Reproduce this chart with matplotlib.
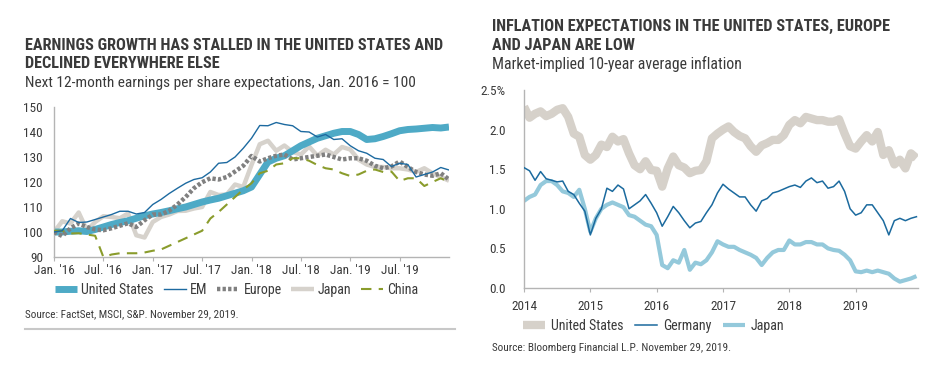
import matplotlib
matplotlib.use("Agg")
import matplotlib.pyplot as plt
from matplotlib import font_manager as fm

names = {f.name for f in fm.fontManager.ttflist}
FONT = "DejaVu Sans"
for cand in ["Liberation Sans Narrow", "Roboto Condensed", "Roboto", "Lato"]:
    if cand in names:
        FONT = cand
        break
plt.rcParams['font.family'] = [FONT, 'DejaVu Sans']

TXT = "#3a3a3a"
AX = "#b4b4b4"

# ---------------- Left chart data (monthly, Jan 2016 = 100) ----------------
left_xticklabels = ["Jan. '16", "Jul. '16", "Jan. '17", "Jul. '17", "Jan. '18", "Jul. '18", "Jan. '19", "Jul. '19"]
left_yticks = [90, 100, 110, 120, 130, 140, 150]

us_eps = [100, 100, 100.3, 100.5, 100.2, 101, 102, 103, 103.8, 104.5, 105.5, 106.5,
          107.2, 107.8, 108.5, 109.3, 110, 111, 112, 112.8, 113.5, 114.5, 115.5, 116.5,
          118, 123, 128, 129.5, 130.5, 132.5, 134.5, 136, 137.5, 138.5, 139.5, 140.2,
          140.2, 139, 137, 137.3, 138.2, 139.3, 140.5, 141, 141.2, 141.5, 141.8, 141.6, 142]
em_eps = [100, 100.5, 105.4, 103.8, 104, 105, 106, 107, 108.3, 108.3, 107.2, 107.8,
          111, 113, 115.4, 117.5, 119.5, 121, 121.7, 124, 127.5, 127.8, 130, 133.5,
          137.5, 142.6, 142.5, 143.8, 143, 142.5, 140.2, 140, 138, 139, 137, 137.3,
          134.5, 132.5, 131.5, 129.5, 129, 126.2, 127.5, 127, 122, 123, 124, 125.8, 124.8]
europe_eps = [100, 98.4, 101.5, 103.4, 102, 101, 100.7, 101.5, 102.5, 103.5, 102, 104.7,
              107, 107, 108.5, 111, 114, 117.5, 119.9, 121.5, 121, 122, 124.2, 126.5,
              130.4, 128.2, 129.5, 130.5, 131, 129, 129.5, 130, 130.5, 131, 130, 129,
              129.5, 129.5, 128.5, 126.5, 125.5, 126.2, 128.2, 126, 124, 123, 122.5, 123.5, 121]
japan_eps = [100, 104.3, 103.4, 107.8, 100.7, 104, 106.3, 106, 105.5, 107.4, 98.7, 97.8,
             104, 106, 107, 108.4, 108.5, 109.4, 110, 116, 114.8, 115, 119, 118,
             126.8, 135.1, 136.5, 132.5, 134.6, 132, 131, 134.2, 130.5, 132.9, 131, 134,
             133, 129, 127, 126, 126, 125.5, 125.5, 125, 124, 125.5, 123.5, 122, 120.5]
china_eps = [100.5, 100.5, 99.4, 99.5, 99, 98.5, 90, 91, 91.5, 91.5, 91.5, 91.8,
             92.5, 93, 94.5, 96, 97.5, 99, 100.5, 105.4, 108, 111, 114, 117,
             119.5, 123.5, 124.5, 127, 127.5, 129.5, 129.5, 128.5, 126.8, 125.5, 125, 123.5,
             122.4, 123, 124.5, 125, 124, 124.2, 120.4, 121.5, 121.5, 118.4, 120, 121.5, 120]

# ---------------- Right chart data (monthly, Jan 2014 - Nov 2019) ----------------
right_xticklabels = ["2014", "2015", "2016", "2017", "2018", "2019"]
right_yticklabels = ["0.0", "0.5", "1.0", "1.5", "2.0", "2.5%"]

us_infl = [2.29, 2.15, 2.2, 2.23, 2.17, 2.2, 2.25, 2.27, 2.16, 1.95, 1.91, 1.68,
           1.62, 1.68, 1.81, 1.78, 1.91, 1.85, 1.88, 1.70, 1.55, 1.5, 1.6, 1.49,
           1.48, 1.28, 1.51, 1.66, 1.55, 1.52, 1.45, 1.48, 1.49, 1.6, 1.89, 1.95,
           2.0, 2.04, 1.97, 1.92, 1.89, 1.79, 1.72, 1.8, 1.83, 1.87, 1.87, 1.93,
           2.06, 2.12, 2.08, 2.16, 2.14, 2.12, 2.12, 2.1, 2.1, 2.13, 1.95, 1.79,
           1.76, 1.85, 1.93, 1.85, 1.97, 1.68, 1.74, 1.56, 1.62, 1.51, 1.70, 1.64]
de_infl = [1.52, 1.48, 1.36, 1.47, 1.38, 1.36, 1.34, 1.35, 1.22, 1.18, 1.07, 0.97,
           0.67, 0.88, 1.0, 1.26, 1.22, 1.30, 1.25, 1.0, 1.05, 1.1, 1.18, 1.07,
           0.95, 0.78, 0.9, 1.03, 0.95, 0.85, 0.76, 0.82, 0.84, 0.95, 1.05, 1.2,
           1.31, 1.25, 1.2, 1.15, 1.15, 1.05, 0.97, 1.1, 1.13, 1.2, 1.22, 1.25,
           1.28, 1.3, 1.27, 1.35, 1.39, 1.33, 1.35, 1.26, 1.28, 1.35, 1.22, 1.0,
           0.92, 0.95, 1.05, 1.05, 0.95, 0.85, 0.67, 0.85, 0.88, 0.85, 0.88, 0.9]
jp_infl = [1.1, 1.15, 1.18, 1.3, 1.35, 1.35, 1.3, 1.22, 1.2, 1.15, 1.24, 1.0,
           0.71, 0.88, 1.0, 1.05, 1.08, 1.05, 1.02, 0.92, 0.9, 0.85, 0.8, 0.78,
           0.67, 0.29, 0.25, 0.35, 0.32, 0.48, 0.23, 0.32, 0.3, 0.35, 0.45, 0.59,
           0.55, 0.52, 0.52, 0.48, 0.45, 0.42, 0.38, 0.29, 0.38, 0.45, 0.48, 0.48,
           0.6, 0.55, 0.55, 0.58, 0.58, 0.55, 0.55, 0.5, 0.48, 0.47, 0.42, 0.35,
           0.21, 0.2, 0.22, 0.2, 0.22, 0.2, 0.18, 0.12, 0.08, 0.1, 0.12, 0.15]

W, H = 936, 367
fig = plt.figure(figsize=(W / 100, H / 100), dpi=100)
fig.patch.set_facecolor("white")
renderer = fig.canvas.get_renderer()


def fx(px):
    return px / W


def fy(py):
    return 1 - py / H


def fit_text(px, py, s, target_w, **kw):
    t = fig.text(fx(px), fy(py), s, fontsize=10, color=TXT, va="center", **kw)
    w = t.get_window_extent(renderer).width
    t.set_fontsize(10 * target_w / w)
    return t


def style_axes(ax, fs):
    for s in ["top", "right"]:
        ax.spines[s].set_visible(False)
    for s in ["left", "bottom"]:
        ax.spines[s].set_color(AX)
        ax.spines[s].set_linewidth(1.0)
    ax.tick_params(colors=AX, labelcolor=TXT, labelsize=fs, length=3, width=0.8)


# ---------------- Left chart ----------------
axL = fig.add_axes([fx(54), fy(257), fx(449 - 54), (257 - 107) / H])
months = list(range(len(us_eps)))
axL.plot(months, us_eps, color="#4eaac6", lw=5.0, solid_capstyle="butt", solid_joinstyle="round",
         label="United States", zorder=2)
axL.plot(months, em_eps, color="#1d6aa0", lw=1.0, label="EM", zorder=5)
axL.plot(months, europe_eps, color="#808080", lw=3.2, linestyle=(0, (0.75, 0.5)),
         dash_capstyle="butt", label="Europe", zorder=3)
axL.plot(months, japan_eps, color="#d6d2cc", lw=3.2, solid_capstyle="butt", label="Japan", zorder=1)
axL.plot(months, china_eps, color="#8a9c2c", lw=1.5, linestyle=(0, (5, 3.5)), label="China", zorder=4)
axL.set_xlim(0, 48)
axL.set_ylim(90, 150)
axL.set_yticks(left_yticks)
axL.set_xticks(range(0, 48, 6))
axL.set_xticklabels(left_xticklabels)
style_axes(axL, 9.5)
axL.tick_params(axis="y", length=0, pad=8)
axL.tick_params(axis="x", pad=2)
legL = axL.legend(loc="center left", bbox_to_anchor=(fx(55), fy(290)), bbox_transform=fig.transFigure,
                  ncol=5, frameon=False, fontsize=10, handlelength=1.6, columnspacing=0.7,
                  handletextpad=0.3, labelcolor=TXT, borderaxespad=0, borderpad=0)

fit_text(25, 45, "EARNINGS GROWTH HAS STALLED IN THE UNITED STATES AND", 418, fontweight="bold")
tl2 = fig.text(fx(25), fy(64), "DECLINED EVERYWHERE ELSE", color=TXT, va="center", fontweight="bold")
fit_text(25, 83, "Next 12-month earnings per share expectations, Jan. 2016 = 100", 388)
fit_text(25, 314, "Source: FactSet, MSCI, S&P. November 29, 2019.", 213)
fig.add_artist(plt.Line2D([fx(25), fx(455)], [fy(329), fy(329)], color="#c8c8c8", lw=1.5))

# ---------------- Right chart ----------------
axR = fig.add_axes([fx(524), fy(288), fx(918 - 524), (288 - 90) / H])
t = [2014 + i / 12 for i in range(len(us_infl))]
axR.plot(t, us_infl, color="#d6d1ca", lw=6.0, solid_capstyle="butt", solid_joinstyle="round",
         label="United States", zorder=1)
axR.plot(t, de_infl, color="#1b6a9e", lw=1.1, label="Germany", zorder=3)
axR.plot(t, jp_infl, color="#94c9db", lw=3.0, solid_capstyle="butt", label="Japan", zorder=2)
axR.set_xlim(2014, 2019.94)
axR.set_ylim(0, 2.5)
axR.set_yticks([0, 0.5, 1.0, 1.5, 2.0, 2.5])
axR.set_yticklabels(right_yticklabels)
axR.set_xticks([2014, 2015, 2016, 2017, 2018, 2019])
axR.set_xticklabels(right_xticklabels)
style_axes(axR, 9.5)
axR.tick_params(axis="y", length=0, pad=13)
axR.tick_params(axis="x", pad=6)
legR = axR.legend(loc="center left", bbox_to_anchor=(fx(523), fy(326)), bbox_transform=fig.transFigure,
                  ncol=3, frameon=False, fontsize=10, handlelength=1.6, columnspacing=0.85,
                  handletextpad=0.4, labelcolor=TXT, borderaxespad=0, borderpad=0)

t1 = fit_text(492, 26, "INFLATION EXPECTATIONS IN THE UNITED STATES, EUROPE", 397, fontweight="bold")
t2 = fig.text(fx(492), fy(45), "AND JAPAN ARE LOW", color=TXT, va="center", fontweight="bold")
fit_text(492, 64, "Market-implied 10-year average inflation", 248)
fit_text(492, 348, "Source: Bloomberg Financial L.P. November 29, 2019.", 238)

# second title lines use the same size as their first lines
tl2.set_fontsize(fig.texts[0].get_fontsize())
t2.set_fontsize(t1.get_fontsize())

fig.savefig("out.png", dpi=100, facecolor="white")
